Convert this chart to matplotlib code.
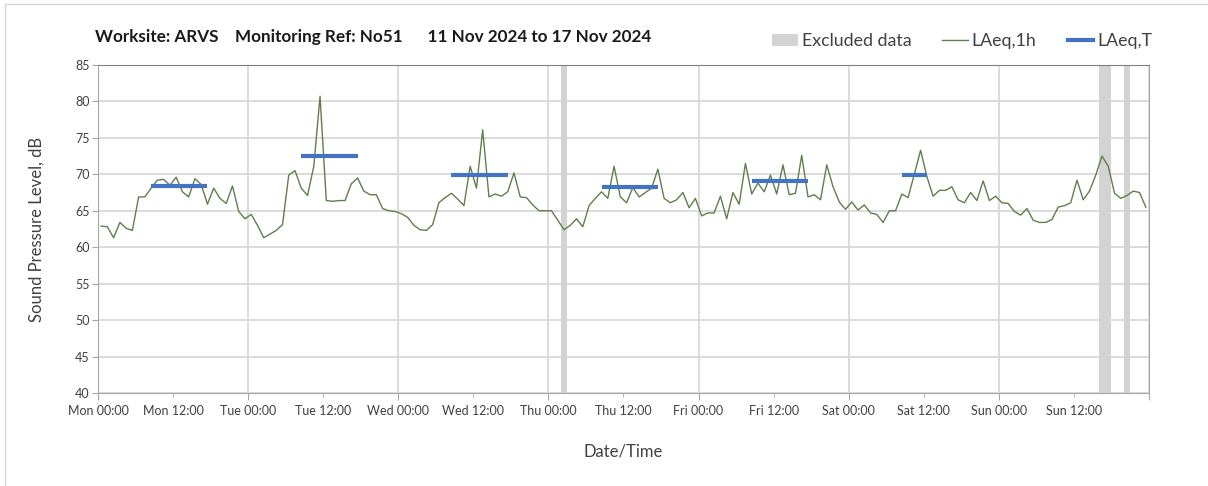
import numpy as np
import matplotlib
matplotlib.use("Agg")
import matplotlib.pyplot as plt
from matplotlib.patches import Patch
from matplotlib.lines import Line2D

plt.rcParams['font.family'] = ['Lato', 'DejaVu Sans']

# hourly LAeq,1h readings, Mon 00:00 .. Sun 23:00
laeq_1h = [
    62.9, 62.8, 61.3, 63.4, 62.6, 62.3, 66.9, 66.9, 68.1, 69.2, 69.3, 68.5,
    69.6, 67.6, 66.9, 69.4, 68.6, 65.9, 68.1, 66.7, 66.0, 68.4, 64.9, 63.9,
    64.5, 63.0, 61.3, 61.8, 62.3, 63.1, 69.9, 70.5, 68.1, 67.1, 71.1, 80.7,
    66.4, 66.3, 66.4, 66.4, 68.7, 69.5, 67.7, 67.2, 67.2, 65.3, 65.0, 64.9,
    64.6, 64.1, 63.0, 62.4, 62.3, 63.1, 66.1, 66.8, 67.4, 66.6, 65.7, 71.1,
    68.1, 76.1, 66.9, 67.3, 67.0, 67.6, 70.2, 66.9, 66.8, 65.8, 65.0, 65.0,
    65.0, 63.7, 62.4, 63.0, 63.9, 62.8, 65.7, 66.7, 67.6, 66.7, 71.1, 66.9,
    66.1, 68.2, 66.9, 67.5, 68.1, 70.7, 66.7, 66.1, 66.5, 67.5, 65.4, 66.7,
    64.3, 64.7, 64.7, 67.0, 63.9, 67.5, 65.9, 71.5, 67.3, 68.8, 67.6, 69.9,
    67.3, 71.3, 67.2, 67.4, 72.6, 66.9, 67.2, 66.5, 71.3, 68.3, 66.2, 65.2,
    66.2, 65.1, 65.8, 64.7, 64.5, 63.4, 65.0, 65.0, 67.3, 66.8, 70.0, 73.3,
    69.7, 67.0, 67.8, 67.8, 68.3, 66.5, 66.1, 67.5, 66.4, 69.1, 66.4, 67.0,
    66.1, 66.0, 64.9, 64.4, 65.3, 63.7, 63.4, 63.4, 63.8, 65.5, 65.7, 66.1,
    69.2, 66.5, 67.7, 69.9, 72.5, 71.1, 67.4, 66.7, 67.1, 67.7, 67.5, 65.5,
]

# LAeq,T over each working period: (first hour, last hour, level)
period_start = [8, 32, 56, 80, 104, 128]
period_end = [17, 41, 65, 89, 113, 132]
period_level = [68.4, 72.5, 69.9, 68.3, 69.1, 69.9]

# excluded hours: (start hour, end hour)
excl_start = [74, 160, 164]
excl_end = [75, 162, 165]

days = ['Mon', 'Tue', 'Wed', 'Thu', 'Fri', 'Sat', 'Sun']

hours = np.arange(len(laeq_1h)) + 0.5

fig = plt.figure(figsize=(12.08, 4.86), dpi=100)
ax = fig.add_axes([0.0811, 0.1914, 0.8700, 0.6749])

# frame lines around the chart area
fig.add_artist(Line2D([5 / 1208, 5 / 1208], [0, 1 - 4 / 486],
                      transform=fig.transFigure, color='#d9d9d9', lw=1))
fig.add_artist(Line2D([5 / 1208, 1], [1 - 4 / 486, 1 - 4 / 486],
                      transform=fig.transFigure, color='#d9d9d9', lw=1))

for s, e in zip(excl_start, excl_end):
    ax.axvspan(s, e, color='#d3d3d3', lw=0, zorder=1)

ax.plot(hours, laeq_1h, color='#5f7f4c', lw=1.0, zorder=3)

for s, e, v in zip(period_start, period_end, period_level):
    ax.plot([s + 0.5, e + 0.5], [v, v], color='#4472c4', lw=3,
            solid_capstyle='butt', zorder=4)

ax.set_xlim(0, 168)
ax.set_ylim(40, 85)
ax.set_yticks(np.arange(40, 86, 5))

major = np.arange(0, 169, 24)
minor = np.arange(12, 168, 24)
ax.set_xticks(major)
ax.set_xticklabels([d + ' 00:00' for d in days] + [''])
ax.set_xticks(minor, minor=True)
ax.set_xticklabels([d + ' 12:00' for d in days], minor=True)

ax.grid(axis='y', color='#d9d9d9', lw=1.3, zorder=0)
ax.grid(axis='x', which='major', color='#d9d9d9', lw=1.3, zorder=0)
ax.set_axisbelow(True)

for side in ['left', 'bottom', 'right']:
    ax.spines[side].set_color('#a6a6a6')
ax.spines['top'].set_color('#808080')
ax.tick_params(axis='both', which='both', colors='#a6a6a6',
               labelcolor='#404040', labelsize=9)
ax.tick_params(axis='x', which='major', length=5, pad=4)
ax.tick_params(axis='x', which='minor', length=3, pad=6)
ax.tick_params(axis='y', length=4, pad=2)

ax.set_ylabel('Sound Pressure Level, dB', fontsize=12, color='#404040',
              labelpad=22)
ax.set_xlabel('Date/Time', fontsize=12, color='#404040', labelpad=19)

fig.text(95 / 1208, 1 - 37 / 486,
         'Worksite: ARVS    Monitoring Ref: No51      11 Nov 2024 to 17 Nov 2024',
         fontsize=12.3, fontweight='bold', color='#1a1a1a', va='center')

handles = [
    Patch(facecolor='#d3d3d3', edgecolor='none', label='Excluded data'),
    Line2D([], [], color='#5f7f4c', lw=1, label='LAeq,1h'),
    Line2D([], [], color='#4472c4', lw=3, label='LAeq,T'),
]
fig.legend(handles=handles, ncol=3, frameon=False, fontsize=12.8,
           loc='center right', bbox_to_anchor=(1168 / 1208, 1 - 41 / 486),
           handlelength=1.45, handletextpad=0.2, columnspacing=1.75,
           labelcolor='#404040')

fig.savefig('out.png', dpi=100)
